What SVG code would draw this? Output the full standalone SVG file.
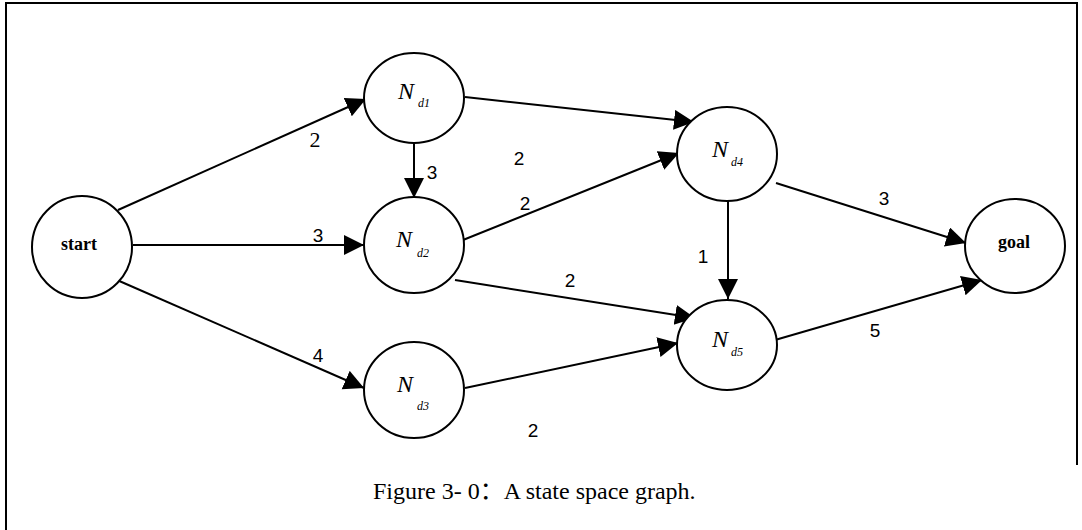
<svg xmlns="http://www.w3.org/2000/svg" width="1082" height="530" viewBox="0 0 1082 530">
<defs>
<marker id="arr" markerUnits="userSpaceOnUse" markerWidth="22" markerHeight="22" refX="20" refY="10" orient="auto" viewBox="0 0 22 22">
<path d="M0,0 L20,10 L0,20 z" fill="#000"/>
</marker>
<style>
.node{fill:#fff;stroke:#000;stroke-width:2}
.edge{fill:none;stroke:#000;stroke-width:2;marker-end:url(#arr)}
.N{font-family:"Liberation Serif",serif;font-style:italic;font-size:24px}
.sub{font-family:"Liberation Serif",serif;font-style:italic;font-size:12px}
.bold{font-family:"Liberation Serif",serif;font-weight:bold;font-size:18px;text-anchor:middle}
.lbl{font-family:"Liberation Sans",sans-serif;font-size:19px;text-anchor:middle}
.lbls{font-family:"Liberation Serif",serif;font-size:22px;text-anchor:middle}
.cap{font-family:"Liberation Serif","Noto Sans CJK SC",serif;font-size:24px}
</style>
</defs>
<rect width="1082" height="530" fill="#fff"/>
<g id="frame" stroke="#000" stroke-width="2" fill="none">
<path d="M6,530 L6,3 L1077,3 L1077,465"/>
</g>
<g id="connectors">
<path class="edge" d="M118,210 L366,99"/>
<path class="edge" d="M133,245 L364,245"/>
<path class="edge" d="M117,280 L364,388"/>
<path class="edge" d="M414,143 L414,198"/>
<path class="edge" d="M465,97 L694,122"/>
<path class="edge" d="M463,240 L679,153"/>
<path class="edge" d="M455,280 L695,318"/>
<path class="edge" d="M465,388 L678,343"/>
<path class="edge" d="M728,201 L728,299"/>
<path class="edge" d="M776,183 L966,243"/>
<path class="edge" d="M775,340 L982,280"/>
<text class="lbls" x="315" y="147">2</text>
<text class="lbl" x="318" y="242">3</text>
<text class="lbl" x="318" y="362">4</text>
<text class="lbl" x="432" y="179">3</text>
<text class="lbl" x="519" y="165">2</text>
<text class="lbl" x="525" y="210">2</text>
<text class="lbl" x="570" y="287">2</text>
<text class="lbl" x="533" y="437">2</text>
<text class="lbl" x="703" y="263">1</text>
<text class="lbl" x="884" y="205">3</text>
<text class="lbl" x="875" y="337">5</text>
</g>
<g id="start">
<ellipse class="node" cx="82" cy="247" rx="50" ry="51"/>
<text class="bold" x="79" y="250">start</text>
</g>
<g id="Nd1">
<ellipse class="node" cx="414" cy="98" rx="50" ry="45"/>
<text class="N" x="398" y="99">N</text>
<text class="sub" x="418" y="107">d1</text>
</g>
<g id="Nd2">
<ellipse class="node" cx="414" cy="245" rx="50" ry="48"/>
<text class="N" x="396" y="247">N</text>
<text class="sub" x="417" y="257">d2</text>
</g>
<g id="Nd3">
<ellipse class="node" cx="414" cy="390" rx="50" ry="48"/>
<text class="N" x="397" y="392">N</text>
<text class="sub" x="417" y="410">d3</text>
</g>
<g id="Nd4">
<ellipse class="node" cx="727" cy="154" rx="50" ry="47"/>
<text class="N" x="712" y="157">N</text>
<text class="sub" x="731" y="166">d4</text>
</g>
<g id="Nd5">
<ellipse class="node" cx="727" cy="345" rx="50" ry="45"/>
<text class="N" x="712" y="347">N</text>
<text class="sub" x="731" y="356">d5</text>
</g>
<g id="goal">
<ellipse class="node" cx="1015" cy="246" rx="50" ry="47"/>
<text class="bold" x="1014" y="248">goal</text>
</g>
<text class="cap" x="373" y="499">Figure 3- 0：A state space graph.</text>
</svg>
